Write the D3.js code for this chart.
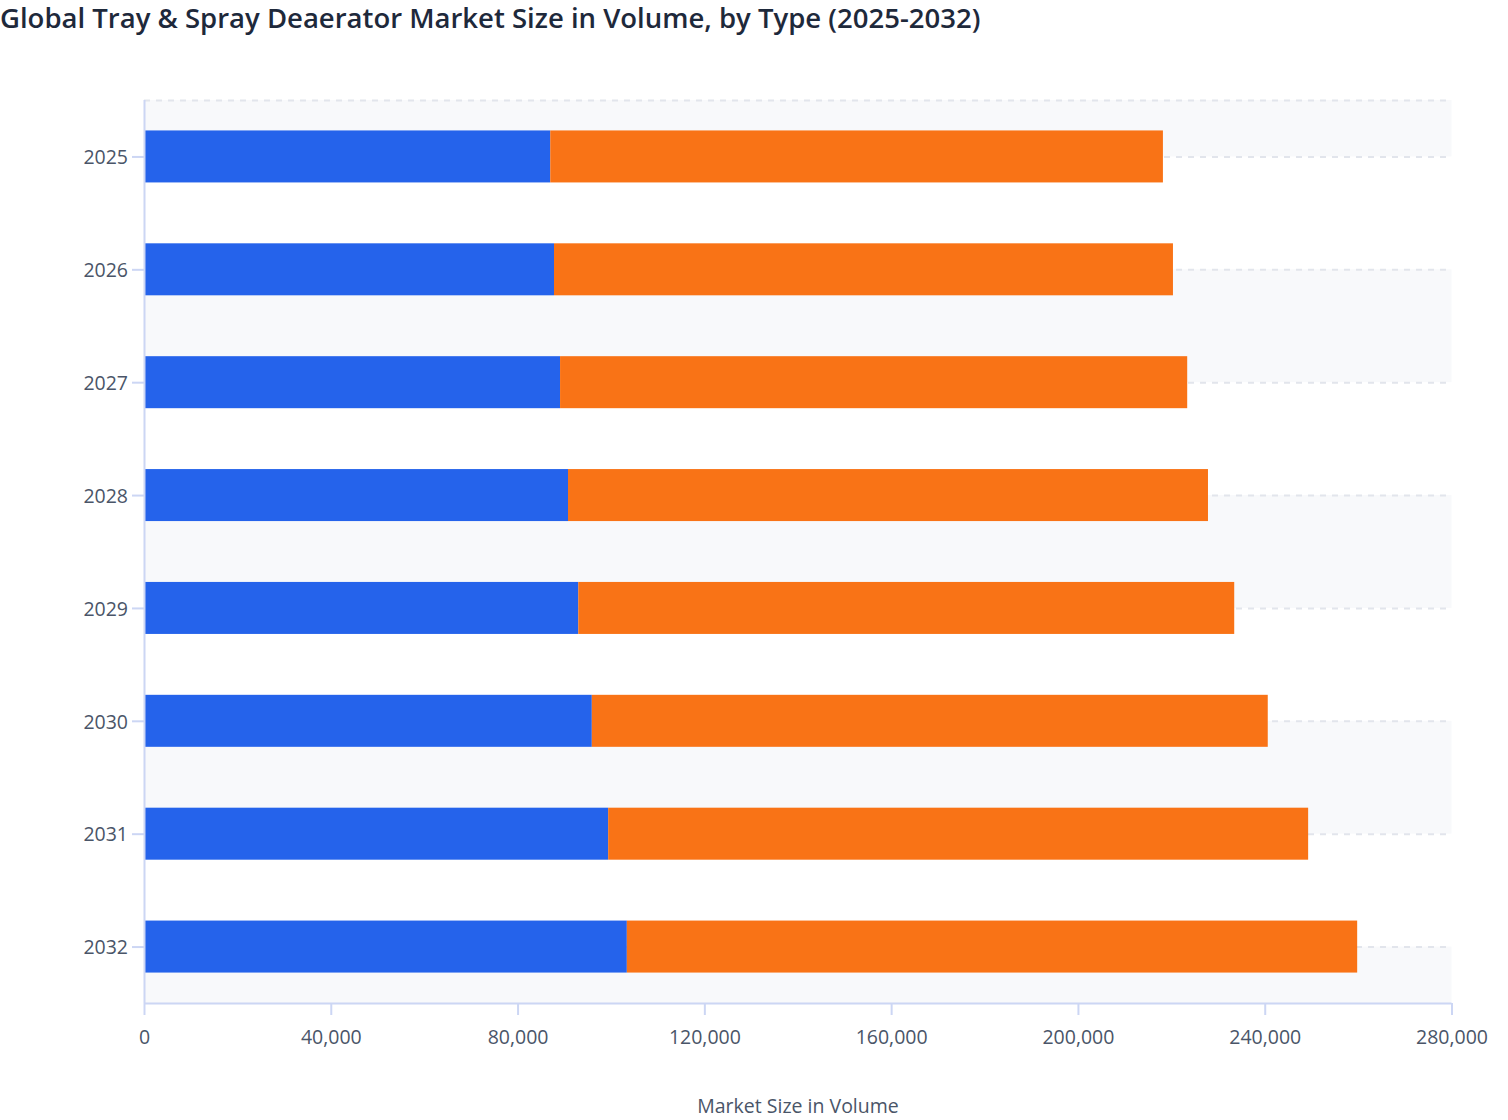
<!DOCTYPE html>
<html>
<head>
<meta charset="utf-8">
<script src="https://cdn.jsdelivr.net/npm/d3@7"></script>
<style>
  html, body { margin: 0; padding: 0; background: #ffffff; }
  svg { display: block; font-family: "Open Sans", "Noto Sans", sans-serif; }
</style>
</head>
<body>
<svg id="chart" width="1508" height="1120"></svg>
<script>
const titleText = "Global Tray & Spray Deaerator Market Size in Volume, by Type (2025-2032)";
const xAxisTitle = "Market Size in Volume";
const years = ["2025", "2026", "2027", "2028", "2029", "2030", "2031", "2032"];
const seriesNames = ["Tray Type", "Spray Type"];
const trayValues = [87000, 87800, 89100, 90800, 93000, 95900, 99400, 103400];
const sprayValues = [131200, 132550, 134300, 137050, 140470, 144750, 149900, 156400];
const xTicks = [0, 40000, 80000, 120000, 160000, 200000, 240000, 280000];
const seriesColors = ["#2563eb", "#f97316"];

const svg = d3.select("#chart");
const margin = { top: 100, left: 144, right: 1508 - 1451.5, bottom: 1120 - 1003 };
const width = 1508 - margin.left - margin.right;
const height = 1120 - margin.top - margin.bottom;

svg.append("text")
  .attr("x", 0).attr("y", 28)
  .attr("font-size", 27.5).attr("font-weight", 600)
  .attr("fill", "#1e293b")
  .text(titleText);

const g = svg.append("g").attr("transform", `translate(${margin.left},${margin.top})`);

const x = d3.scaleLinear().domain([0, 280000]).range([0, width]);
const yc = d3.scalePoint().domain(years).range([0, height]).padding(0.5);

// split area bands: boundaries at top, category centers, bottom
const bounds = [0, ...years.map(d => yc(d)), height];
for (let i = 0; i < bounds.length - 1; i++) {
  if (i % 2 === 0) {
    g.append("rect")
      .attr("x", 0).attr("y", bounds[i])
      .attr("width", width).attr("height", bounds[i + 1] - bounds[i])
      .attr("fill", "#f8f9fb");
  }
}

// grid lines (dashed) at top and category centers
const gridYs = [0, ...years.map(d => yc(d))];
g.selectAll("line.grid").data(gridYs).enter().append("line")
  .attr("class", "grid")
  .attr("x1", 0).attr("x2", width)
  .attr("y1", d => d + 0.5).attr("y2", d => d + 0.5)
  .attr("stroke", "#e2e5ec").attr("stroke-width", 2)
  .attr("stroke-dasharray", "6,6");

// stacked bars
const rows = years.map((yr, i) => ({ year: yr, tray: trayValues[i], spray: sprayValues[i] }));
const stacked = d3.stack().keys(["tray", "spray"])(rows);
const bh = 52;
stacked.forEach((layer, li) => {
  g.selectAll(null).data(layer).enter().append("rect")
    .attr("x", d => x(d[0]))
    .attr("y", d => yc(d.data.year) - bh / 2)
    .attr("width", d => x(d[1]) - x(d[0]))
    .attr("height", bh)
    .attr("fill", seriesColors[li]);
});

// axes
const axisColor = "#ccd6f4";
const textColor = "#4a5568";

const yAxis = g.append("g").call(d3.axisLeft(yc).tickSize(12).tickPadding(4));
yAxis.select(".domain").attr("stroke", axisColor).attr("stroke-width", 2)
  .attr("d", `M0.5,0V${height}`);
yAxis.selectAll(".tick line").attr("stroke", axisColor).attr("stroke-width", 2).attr("x2", -12);
yAxis.selectAll(".tick text").attr("fill", textColor).attr("font-size", 19.5)
  .attr("font-family", "'Open Sans', sans-serif").attr("dy", "0.37em");

const xAxis = g.append("g").attr("transform", `translate(0,${height})`)
  .call(d3.axisBottom(x).tickValues(xTicks).tickFormat(d3.format(",")).tickSize(12).tickPadding(15));
xAxis.select(".domain").attr("stroke", axisColor).attr("stroke-width", 2)
  .attr("d", `M0,0.5H${width}`);
xAxis.selectAll(".tick line").attr("stroke", axisColor).attr("stroke-width", 2);
xAxis.selectAll(".tick text").attr("fill", textColor).attr("font-size", 19.5)
  .attr("font-family", "'Open Sans', sans-serif");

svg.append("text")
  .attr("x", 798).attr("y", 1113)
  .attr("text-anchor", "middle")
  .attr("font-size", 19.5).attr("fill", textColor)
  .text(xAxisTitle);
</script>
</body>
</html>
